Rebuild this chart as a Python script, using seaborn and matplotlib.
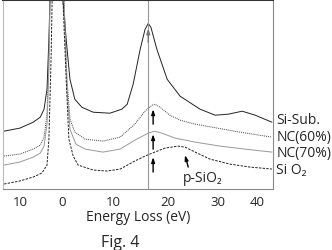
import matplotlib
matplotlib.use("Agg")
import matplotlib.pyplot as plt
import seaborn as sns
import pandas as pd

# energy loss (eV) and intensity (arb. units, offset)
e_sub = [-9.8, -6.9, -4.4, -3.1, -2.4, -1.85, -1.5, -1.3, 0.0, 1.1, 1.7, 2.4, 3.3, 4.6, 6.7,
         9.8, 12.0, 13.0, 14.1, 15.4, 16.3, 16.9, 17.4, 18.5, 20.4, 22.8, 26.5, 29.3, 31.7,
         34.3, 36.7, 39.8]
i_sub = [58, 61, 67, 72, 80, 100, 150, 190, 700, 190, 150, 110, 90, 82, 77,
         76, 80, 85, 105, 140, 160, 166, 162, 140, 110, 93, 80, 74, 75,
         78, 74, 67]

e_nc60 = [-9.8, -6.9, -4.4, -3.1, -2.4, -1.85, -1.5, -1.3, 0.0, 1.3, 1.85, 2.4, 3.3, 5.2, 8.5,
          11.7, 14.4, 16.3, 17.6, 18.1, 19.1, 20.9, 22.8, 25.6, 28.7, 33.9, 39.8]
i_nc60 = [33, 35, 40, 44, 52, 75, 130, 190, 700, 190, 110, 70, 57, 50, 48,
          52, 65, 78, 84, 85, 82, 74, 69, 65, 62, 57, 52]

e_nc70 = [-9.8, -6.9, -4.4, -3.1, -2.4, -1.85, -1.5, -1.3, 0.0, 1.3, 1.85, 2.4, 3.5, 5.2, 8.5,
          11.7, 14.4, 16.9, 18.1, 19.4, 21.9, 25.6, 30.2, 34.8, 39.8]
i_nc70 = [24, 27, 32, 36, 43, 65, 120, 190, 700, 190, 100, 60, 45, 40, 37,
          40, 49, 56, 58, 56, 51, 47, 43, 40, 37]

e_sio2 = [-9.8, -6.9, -4.4, -2.8, -1.85, -1.5, -1.1, -0.9, 0.0, 1.1, 1.7, 2.2, 3.0, 3.9, 6.7,
          9.3, 11.7, 14.4, 16.3, 18.1, 20.0, 22.4, 23.7, 25.6, 28.3, 32.0, 35.7, 39.8]
i_sio2 = [5, 8, 12, 16, 24, 50, 130, 190, 700, 190, 110, 50, 33, 24, 19,
          18, 20, 28, 33, 37, 41, 43, 42, 37, 30, 25, 22, 20]

names = ["Si-Sub.", "NC(60%)", "NC(70%)", "Si O₂"]
label_y = [70, 53, 37, 20]
tick_pos = [-6.85, 0.9, 10.4, 20.5, 29.8, 37.0]
tick_lab = ["10", "0", "10", "20", "30", "40"]
plasmon_e = 16.9

sns.set_style("white")
plt.rcParams["font.family"] = ["Open Sans", "DejaVu Sans"]

fig = plt.figure(figsize=(3.32, 2.51), dpi=100)
ax = fig.add_axes([3 / 332, 61 / 251, 270 / 332, 189.5 / 251])

curves = [
    (e_sub, i_sub, dict(color="#222222", lw=0.7)),
    (e_nc60, i_nc60, dict(color="#444444", lw=0.7, linestyle=(0, (1, 1)))),
    (e_nc70, i_nc70, dict(color="#999999", lw=0.7)),
    (e_sio2, i_sio2, dict(color="#222222", lw=0.7, linestyle=(0, (2.5, 1.3)))),
]
for e, i, kw in curves:
    df = pd.DataFrame({"E": e, "I": i})
    sns.lineplot(data=df, x="E", y="I", ax=ax, estimator=None, **kw)

ax.axvline(plasmon_e, color="#999999", lw=0.8)

ax.set_xlim(-10, 40)
ax.set_ylim(0, 190)
ax.set_yticks([])
ax.set_ylabel("")
ax.set_xticks(tick_pos)
ax.set_xticklabels(tick_lab, fontsize=9.5)
ax.tick_params(axis="x", length=0, pad=4)
ax.set_xticks([0, 10, 20, 30], minor=True)
ax.tick_params(axis="x", which="minor", direction="in", length=2, color="#999999")
ax.set_xlabel("Energy Loss (eV)", fontsize=10, labelpad=1)

for s in ["left", "right", "bottom"]:
    ax.spines[s].set_color("#8a8a8a")
    ax.spines[s].set_linewidth(0.8)
ax.spines["left"].set_color("#bbbbbb")
ax.spines["top"].set_color("#333333")
ax.spines["top"].set_linewidth(1.5)

# arrows
def arrow(x0, y0, x1, y1, c="black"):
    ax.annotate("", xy=(x1, y1), xytext=(x0, y0),
                arrowprops=dict(arrowstyle="-|>,head_length=0.3,head_width=0.1",
                                color=c, lw=1.0, shrinkA=0, shrinkB=0))

for tail, head in [(65, 80), (40, 55), (17, 32)]:
    arrow(17.8, tail, 17.8, head)
arrow(plasmon_e, 147, plasmon_e, 161, c="#777777")
arrow(24.3, 22, 23.7, 34)
ax.text(27.0, 12, "p-SiO₂", fontsize=10, ha="center", va="center")

for n, y in zip(names, label_y):
    ax.text(40.6, y, n, fontsize=10, ha="left", va="center", clip_on=False)

fig.text(120 / 332, 1 - 243 / 251, "Fig. 4", fontsize=11.5, ha="center", va="center")

fig.savefig("out.png", dpi=100)
